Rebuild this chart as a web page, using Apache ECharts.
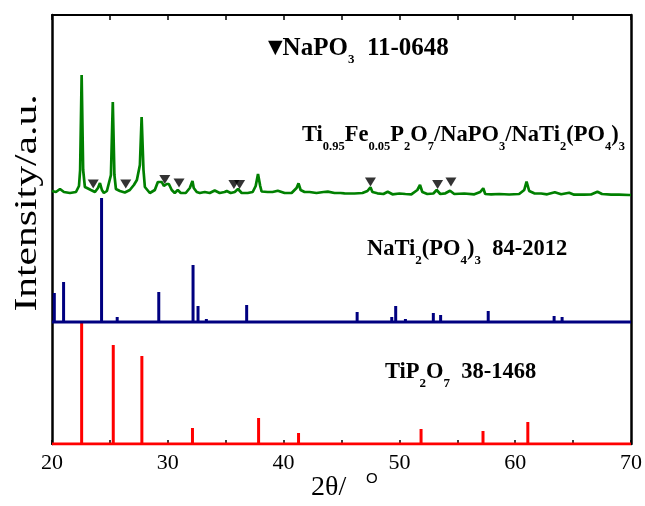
<!DOCTYPE html>
<html><head><meta charset="utf-8">
<script src="https://cdn.jsdelivr.net/npm/echarts@6/dist/echarts.min.js"></script>
<style>html,body{margin:0;padding:0;background:#fff}#c{width:645px;height:506px}</style>
</head><body><div id="c"></div>
<script>
// x range (2theta, degrees)
const xMin = 20, xMax = 70;
const xTickLabels = [20, 30, 40, 50, 60, 70];
// Measured pattern (green), [2theta, intensity a.u.]
const sampleData = [[20.0,253],[20.34,252],[20.69,255],[21.03,252],[21.55,251],[22.07,252],[22.33,258],[22.43,274],[22.56,369],[22.69,274],[22.84,257],[23.02,256],[23.36,254],[23.71,252],[23.97,256],[24.14,261],[24.31,254],[24.48,251],[24.74,253],[25.09,269],[25.25,342],[25.39,269],[25.52,255],[25.86,253],[26.29,251.5],[26.72,254],[27.07,259],[27.33,264],[27.59,279],[27.74,327],[27.9,274],[28.02,257],[28.45,251],[28.88,254],[29.14,262],[29.31,264],[29.48,262],[29.66,258],[29.91,260],[30.09,260],[30.34,254],[30.6,251],[30.86,254],[31.12,251],[31.55,251],[31.9,256],[32.13,263],[32.24,256],[32.5,252],[32.76,251],[33.19,252],[33.62,251],[34.05,253.5],[34.48,251],[34.91,252],[35.09,253],[35.43,251],[35.78,252],[36.06,255],[36.38,251],[36.9,251],[37.33,252],[37.59,258],[37.79,270],[37.98,258],[38.1,252.5],[38.62,252],[39.05,252],[39.5,253.3],[40.09,251],[40.69,251],[41.12,256],[41.29,260.7],[41.47,254],[41.81,252],[42.24,252],[42.84,251],[43.45,252],[43.82,252.3],[44.4,251],[44.91,251],[45.26,250.7],[46.12,250.5],[46.81,251],[47.24,253],[47.5,256.7],[47.67,252],[48.1,250.7],[48.62,250],[48.99,252.3],[49.4,249.7],[50.0,250.5],[50.52,250],[51.03,249.7],[51.55,254],[51.78,259],[51.98,252],[52.41,250],[52.93,250.5],[53.22,254],[53.53,250],[53.97,250.7],[54.37,253.3],[54.74,250],[55.6,250.5],[56.47,249.7],[56.98,252],[57.24,255.7],[57.41,250],[57.93,249.7],[58.62,250],[59.48,249.5],[60.34,250],[60.78,254],[60.98,262.3],[61.21,253],[61.64,250.7],[62.24,250.5],[62.76,249.7],[63.42,251.7],[63.97,249.7],[64.66,251.3],[65.09,249.3],[65.95,249.3],[66.55,249.5],[67.1,252.3],[67.5,250],[68.28,249.3],[68.97,249.3],[69.83,249],[70.0,249]];
// NaPO3 (11-0648) markers, [2theta, marker height]
const napo3Marks = [[23.56,260],[26.37,260],[29.74,264.5],[30.97,261],[35.71,259.5],[36.2,259.5],[47.5,262],[53.3,259.5],[54.45,262]];
// NaTi2(PO4)3 84-2012 reference sticks [2theta, relative intensity]
const natiBase = 122;
const natiPeaks = [[20.2,29],[21.0,40],[24.28,124],[25.63,5],[29.22,30],[32.18,57],[32.61,16],[33.33,3],[36.81,17],[46.35,10],[49.34,5],[49.68,16],[50.52,3],[52.93,9],[53.56,7],[57.67,11],[63.36,6],[64.05,5]];
// TiP2O7 38-1468 reference sticks
const tipBase = 0;
const tipPeaks = [[22.56,122],[25.29,99],[27.76,88],[32.13,16],[37.84,26],[41.29,11],[51.87,15],[57.22,13],[61.09,22]];

const FONT = "'Liberation Serif','Times New Roman',serif";
const chart = echarts.init(document.getElementById('c'), null, {renderer:'canvas'});

function sticks(peaks, base, color, name){
  return {
    type:'custom', name, z:3, animation:false,
    data: peaks.map(p => [p[0], p[1]]),
    renderItem(params, api){
      const x = api.value(0), h = api.value(1);
      const p0 = api.coord([x, base]);
      const p1 = api.coord([x, base + h]);
      return {type:'line', shape:{x1:p0[0], y1:p0[1], x2:p1[0], y2:p1[1]},
        style:{stroke:color, lineWidth:3, lineCap:'butt'}};
    }
  };
}

function richSet(size, subSize){
  return {
    b:{fontFamily:FONT, fontWeight:'bold', fontSize:size, lineHeight:35, color:'#000'},
    s:{fontFamily:FONT, fontWeight:'bold', fontSize:subSize, lineHeight:subSize+1, verticalAlign:'bottom', color:'#000'},
    t:{fontFamily:'DejaVu Sans', fontSize:19, lineHeight:35, color:'#000'}
  };
}

chart.setOption({
  animation:false,
  grid:{left:52, right:13, top:15, bottom:62},
  xAxis:[{
    type:'value', min:xMin, max:xMax, interval:5,
    axisLine:{onZero:false, lineStyle:{color:'#000', width:2}},
    axisTick:{inside:true, length:4, lineStyle:{color:'#000', width:1.5}},
    axisLabel:{color:'#000', fontFamily:FONT, fontSize:22, margin:8,
      formatter: v => xTickLabels.indexOf(v) >= 0 ? String(v) : ''},
    splitLine:{show:false}
  },{
    type:'value', position:'top', min:xMin, max:xMax, interval:5,
    axisLine:{onZero:false, lineStyle:{color:'#000', width:2}},
    axisTick:{inside:true, length:5, lineStyle:{color:'#000', width:1.5}},
    axisLabel:{show:false}, splitLine:{show:false}
  }],
  yAxis:[{
    type:'value', min:0, max:429,
    axisLine:{show:true, onZero:false, lineStyle:{color:'#000', width:2.5}},
    axisTick:{show:false}, axisLabel:{show:false}, splitLine:{show:false}
  },{
    type:'value', position:'right', min:0, max:429,
    axisLine:{show:true, onZero:false, lineStyle:{color:'#000', width:2.5}},
    axisTick:{show:false}, axisLabel:{show:false}, splitLine:{show:false}
  }],
  series:[
    {type:'line', name:'sample', data:sampleData, showSymbol:false, z:4,
      lineStyle:{color:'#008000', width:2.7}},
    {type:'scatter', name:'NaPO3', data:napo3Marks, symbol:'triangle', symbolRotate:180,
      symbolSize:[11,9], itemStyle:{color:'#000'}, z:5},
    {type:'line', name:'natiBase', data:[[xMin,natiBase],[xMax,natiBase]], showSymbol:false, z:3,
      lineStyle:{color:'#000080', width:3}},
    sticks(natiPeaks, natiBase, '#000080', 'NaTi2(PO4)3'),
    {type:'line', name:'tipBase', data:[[xMin,tipBase],[xMax,tipBase]], showSymbol:false, z:3,
      lineStyle:{color:'#ff0000', width:3}},
    sticks(tipPeaks, tipBase, '#ff0000', 'TiP2O7')
  ],
  graphic:[
    {type:'text', left:268, top:36, style:{
      text:'{t|▼}{b|NaPO}{s|3}{b|  11-0648}', rich:richSet(25, 13)}},
    {type:'text', left:302, top:124, style:{
      text:'{b|Ti}{s|0.95}{b|Fe}{s|0.05}{b|P}{s|2}{b|O}{s|7}{b|/NaPO}{s|3}{b|/NaTi}{s|2}{b|(PO}{s|4}{b|)}{s|3}',
      rich:richSet(22.5, 12.5)}},
    {type:'text', left:367, top:238, style:{
      text:'{b|NaTi}{s|2}{b|(PO}{s|4}{b|)}{s|3}{b|  84-2012}', rich:richSet(22.5, 13)}},
    {type:'text', left:385, top:361, style:{
      text:'{b|TiP}{s|2}{b|O}{s|7}{b|  38-1468}', rich:richSet(22.5, 13)}},
    {type:'text', left:311, top:474, style:{
      text:'2θ/', fontFamily:FONT, fontSize:28, fill:'#000'}},
    {type:'text', left:366, top:471, style:{
      text:'O', fontFamily:'Liberation Sans', fontSize:15, fill:'#000'}},
    {type:'text', x:28, y:203, rotation:Math.PI/2, scaleX:1.3, style:{
      text:'Intensity/a.u.', fontFamily:FONT, fontSize:32, fill:'#000', align:'center', verticalAlign:'middle'}}
  ]
});
</script></body></html>
